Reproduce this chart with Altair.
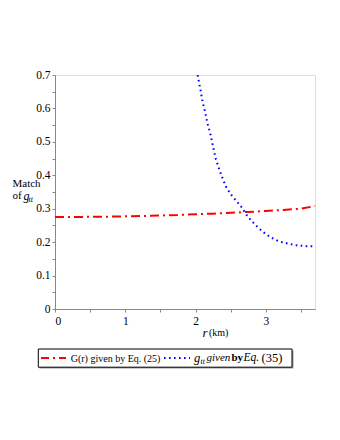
import altair as alt
import pandas as pd

# Red curve: G(r) given by Eq. (25)
r_red = [0.0, 0.25, 0.5, 0.75, 1.0, 1.25, 1.5, 1.75, 2.0, 2.25, 2.5, 2.75, 3.0, 3.25, 3.5, 3.7]
g_red = [0.275, 0.2752, 0.2757, 0.2763, 0.2772, 0.2783, 0.2797, 0.2813, 0.2832, 0.2853, 0.2877,
         0.2903, 0.2932, 0.2964, 0.3000, 0.3080]

# Blue curve: g_tt given by Eq. (35)
r_blue = [2.03, 2.075, 2.10, 2.135, 2.17, 2.21, 2.245, 2.29, 2.34, 2.39, 2.44, 2.51, 2.57, 2.65,
          2.74, 2.84, 2.95, 3.07, 3.19, 3.31, 3.45, 3.58, 3.7]
g_blue = [0.70, 0.65, 0.62, 0.59, 0.555, 0.525, 0.49, 0.448, 0.416, 0.388, 0.363, 0.341, 0.326,
          0.306, 0.277, 0.254, 0.232, 0.214, 0.202, 0.196, 0.190, 0.188, 0.188]

x_ticks = [0, 0.5, 1, 1.5, 2, 2.5, 3, 3.5]
y_ticks = [0, 0.05, 0.1, 0.15, 0.2, 0.25, 0.3, 0.35, 0.4, 0.45, 0.5, 0.55, 0.6, 0.65, 0.7]

SERIF = "Liberation Serif"
W, H = 260, 234

df_red = pd.DataFrame({"r": r_red, "g": g_red})
df_blue = pd.DataFrame({"r": r_blue, "g": g_blue})

xs = alt.Scale(domain=[0, 3.7], nice=False)
ys = alt.Scale(domain=[0, 0.7], nice=False)

xax = alt.Axis(values=x_ticks, labelExpr="datum.value % 1 === 0 ? format(datum.value, 'd') : ''",
               title=None, grid=False, tickSize=3, labelPadding=3,
               labelFont=SERIF, labelFontSize=11.5, labelColor="black")
yax = alt.Axis(values=y_ticks,
               labelExpr="round(datum.value*100) % 10 === 0 ? (datum.value === 0 ? '0' : format(datum.value, '.1f')) : ''",
               title=None, grid=False, tickSize=3, labelPadding=2,
               labelFont=SERIF, labelFontSize=11.5, labelColor="black")

red = alt.Chart(df_red).mark_line(color="#ff0000", strokeWidth=2, strokeDash=[9, 4, 2, 4]).encode(
    x=alt.X("r:Q", scale=xs, axis=xax),
    y=alt.Y("g:Q", scale=ys, axis=yax),
)
blue = alt.Chart(df_blue).mark_line(color="#0000ff", strokeWidth=2, strokeDash=[1.6, 3.4],
                                    clip=True).encode(
    x=alt.X("r:Q", scale=xs, axis=xax),
    y=alt.Y("g:Q", scale=ys, axis=yax),
)

one = alt.Data(values=[{"a": 1}])


def txt(s, x, y, size=11, style="normal", weight="normal", align="left"):
    return alt.Chart(one).mark_text(text=s, font=SERIF, fontSize=size, fontStyle=style,
                                    fontWeight=weight, align=align, baseline="middle",
                                    color="black").encode(x=alt.value(x), y=alt.value(y))


# y title
ytitle = [
    txt("Match", -42.5, 108.5, 11),
    txt("of", -42.5, 121, 11),
    txt("g", -31.5, 121, 12, "italic"),
    txt("tt", -26.5, 125, 8, "italic"),
]
# x title
xtitle = [
    txt("r", 147.5, 258, 13, "italic"),
    txt("(km)", 154, 258, 10),
]

# legend
shadow = alt.Chart(one).mark_rect(fill="#999999").encode(
    x=alt.value(-15.5), x2=alt.value(238.5), y=alt.value(275.5), y2=alt.value(293.5))
box = alt.Chart(one).mark_rect(fill="white", stroke="black", strokeWidth=1).encode(
    x=alt.value(-16.7), x2=alt.value(237), y=alt.value(274), y2=alt.value(292.2))
leg_red = alt.Chart(one).mark_rule(color="#ff0000", strokeWidth=2, strokeDash=[8, 4, 2, 4]).encode(
    x=alt.value(-14), x2=alt.value(11), y=alt.value(283))
leg_blue = alt.Chart(one).mark_rule(color="#0000ff", strokeWidth=2, strokeDash=[1.6, 3.4]).encode(
    x=alt.value(109), x2=alt.value(135), y=alt.value(283))
legend = [
    shadow, box, leg_red, leg_blue,
    txt("G(r) given by Eq. (25)", 15.7, 283.5, 10),
    txt("g", 139, 282.5, 12.5, "italic"),
    txt("tt", 145.5, 286.5, 8, "italic"),
    txt("given", 151.5, 283, 11, "italic"),
    txt("by", 176.5, 283, 11, "normal", "bold"),
    txt("Eq.", 188.5, 283, 11.5, "italic"),
    txt("(35)", 206.5, 283, 12.5),
]

chart = alt.layer(red, blue, *ytitle, *xtitle, *legend).properties(
    width=W, height=H,
    autosize=alt.AutoSizeParams(type="none"),
    padding={"left": 47, "top": 67, "right": 17, "bottom": 115},
).configure_view(stroke="#444444", strokeWidth=1).configure_axis(
    labelFont=SERIF, labelFontSize=11.5, labelColor="black", labelOverlap=False,
    tickColor="black", domainColor="black", grid=False,
).configure(background="white", font=SERIF)

chart.save("out.html", embed_options={"renderer": "svg", "actions": False})
